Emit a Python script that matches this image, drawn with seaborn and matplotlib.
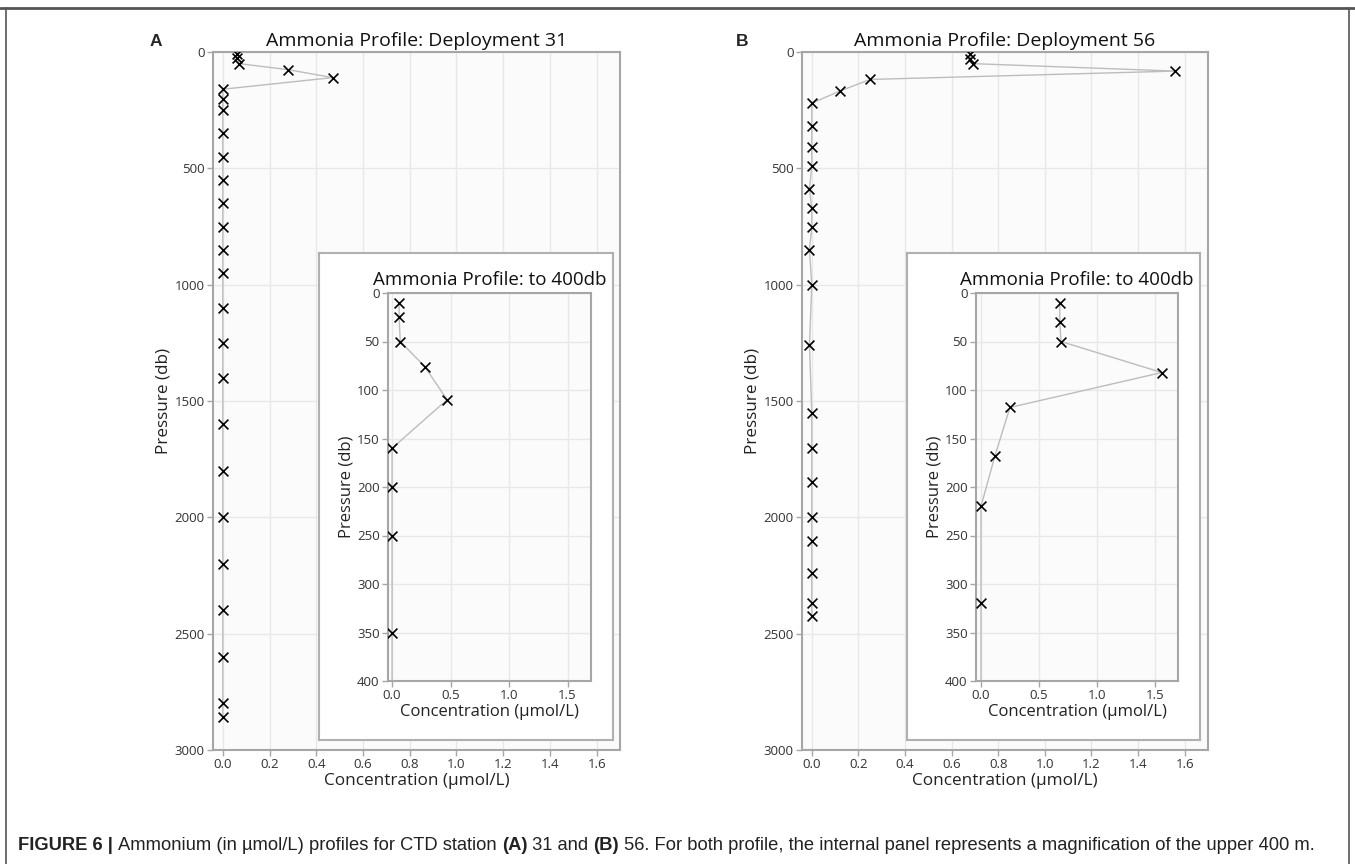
import matplotlib
matplotlib.use("Agg")
import matplotlib.pyplot as plt
import seaborn as sns
import pandas as pd
from matplotlib.lines import Line2D

# Dados (pressão em db, concentração em umol/L)
pres_31 = [10, 25, 50, 76, 110, 160, 200, 250, 350, 450, 550, 650, 750, 850, 950,
           1100, 1250, 1400, 1600, 1800, 2000, 2200, 2400, 2600, 2800, 2860]
conc_31 = [0.06, 0.06, 0.07, 0.28, 0.47, 0.0, 0.0, 0.0, 0.0, 0.0, 0.0, 0.0, 0.0, 0.0, 0.0,
           0.0, 0.0, 0.0, 0.0, 0.0, 0.0, 0.0, 0.0, 0.0, 0.0, 0.0]

pres_56 = [10, 30, 50, 82, 118, 168, 220, 320, 410, 490, 588, 672, 752, 850, 1000,
           1260, 1550, 1700, 1850, 2000, 2100, 2238, 2370, 2424]
conc_56 = [0.68, 0.68, 0.69, 1.56, 0.25, 0.12, 0.0, 0.0, 0.0, 0.0, -0.01, 0.0, 0.0, -0.01, 0.0,
           -0.01, 0.0, 0.0, 0.0, 0.0, 0.0, 0.0, 0.0, 0.0]

titulos = ["Ammonia Profile: Deployment 31", "Ammonia Profile: Deployment 56"]
titulo_inset = "Ammonia Profile: to 400db"
letras = ["A", "B"]
xlabel = "Concentration (\u00b5mol/L)"
ylabel = "Pressure (db)"
main_xticks = [0.0, 0.2, 0.4, 0.6, 0.8, 1.0, 1.2, 1.4, 1.6]
main_yticks = [0, 500, 1000, 1500, 2000, 2500, 3000]
inset_xticks = [0.0, 0.5, 1.0, 1.5]
inset_yticks = [0, 50, 100, 150, 200, 250, 300, 350, 400]

sns.set_theme(style="whitegrid")
plt.rcParams['font.family'] = ['Open Sans', 'DejaVu Sans']

W, H = 1355, 864
fig = plt.figure(figsize=(W / 100, H / 100), dpi=100)
fig.patch.set_facecolor("white")


def box(left, top, right, bottom):
    return [left / W, 1 - bottom / H, (right - left) / W, (bottom - top) / H]


def estilo(ax, xt, yt, xlim, ylim, tsize, lsize, title, tpad):
    ax.set_facecolor("#fbfbfb")
    ax.set_xlim(*xlim)
    ax.set_ylim(*ylim)
    ax.set_xticks(xt)
    ax.set_yticks(yt)
    ax.set_xticklabels([f"{v:.1f}" for v in xt])
    ax.set_yticklabels([str(v) for v in yt])
    ax.grid(True, color="#e8e8e8", linewidth=1)
    for s in ax.spines.values():
        s.set_color("#a6a6a6")
        s.set_linewidth(1.5)
    ax.tick_params(axis="both", which="both", length=4, width=1, color="#a6a6a6",
                   labelsize=9.5, labelcolor="#333333", pad=2, bottom=True, left=True)
    ax.set_xlabel(xlabel, fontsize=lsize, color="#222222", labelpad=1)
    ax.set_ylabel(ylabel, fontsize=lsize, color="#222222", labelpad=2)
    ax.set_title(title, fontsize=tsize, color="#111111", pad=tpad)


def perfil(ax, conc, pres):
    df = pd.DataFrame({"conc": conc, "pres": pres})
    sns.lineplot(data=df, x="conc", y="pres", sort=False, estimator=None,
                 color="#bdbdbd", linewidth=1, ax=ax)
    sns.scatterplot(data=df, x="conc", y="pres", marker="x", s=50, color="black",
                    linewidth=1.2, ax=ax, zorder=3)


paineis = [
    dict(conc=conc_31, pres=pres_31, main=(213, 52, 620, 750), frame=(319, 253, 613, 740),
         inset=(388, 293, 591, 681), letra_x=150, ix=(-0.035, 1.70)),
    dict(conc=conc_56, pres=pres_56, main=(802, 52, 1208, 750), frame=(907, 253, 1200, 740),
         inset=(976, 293, 1178, 681), letra_x=736, ix=(-0.043, 1.70)),
]

for i, p in enumerate(paineis):
    ax = fig.add_axes(box(*p["main"]))
    perfil(ax, p["conc"], p["pres"])
    estilo(ax, main_xticks, main_yticks, (-0.042, 1.70), (3000, 0), 14, 12.3, titulos[i], 4)

    moldura = fig.add_axes(box(*p["frame"]))
    moldura.set_facecolor("white")
    moldura.set_xticks([])
    moldura.set_yticks([])
    moldura.grid(False)
    for s in moldura.spines.values():
        s.set_color("#b0b0b0")
        s.set_linewidth(1.5)

    axi = fig.add_axes(box(*p["inset"]))
    perfil(axi, p["conc"], p["pres"])
    estilo(axi, inset_xticks, inset_yticks, p["ix"], (400, 0), 13.5, 12, titulo_inset, 6)

    fig.text(p["letra_x"] / W, 1 - 41 / H, letras[i], fontsize=12.5, fontweight="bold",
             family=["Liberation Sans", "DejaVu Sans"], ha="left", va="center")

# moldura da figura
cor = "#555555"
fig.add_artist(Line2D([0, 1], [1 - 8 / H, 1 - 8 / H], transform=fig.transFigure,
                      color=cor, linewidth=2))
fig.add_artist(Line2D([6 / W, 6 / W], [0, 1 - 8 / H], transform=fig.transFigure,
                      color=cor, linewidth=1.2))
fig.add_artist(Line2D([1349 / W, 1349 / W], [0, 1 - 8 / H], transform=fig.transFigure,
                      color=cor, linewidth=1.2))

# legenda (caption) em partes, com negrito onde o original tem
partes = [
    ("FIGURE 6 | ", "bold"),
    ("Ammonium (in \u00b5mol/L) profiles for CTD station ", "normal"),
    ("(A)", "bold"),
    (" 31 and ", "normal"),
    ("(B)", "bold"),
    (" 56. For both profile, the internal panel represents a magnification of the upper 400 m.", "normal"),
]
fam_cap = ["Liberation Sans Narrow", "Liberation Sans", "DejaVu Sans"]
renderer = fig.canvas.get_renderer()
x = 18
for txt, peso in partes:
    t = fig.text(x / W, 1 - 850 / H, txt, fontsize=13.2, fontweight=peso, family=fam_cap,
                 color="#222222", ha="left", va="baseline")
    x = t.get_window_extent(renderer).x1

fig.savefig("out.png", dpi=100)
